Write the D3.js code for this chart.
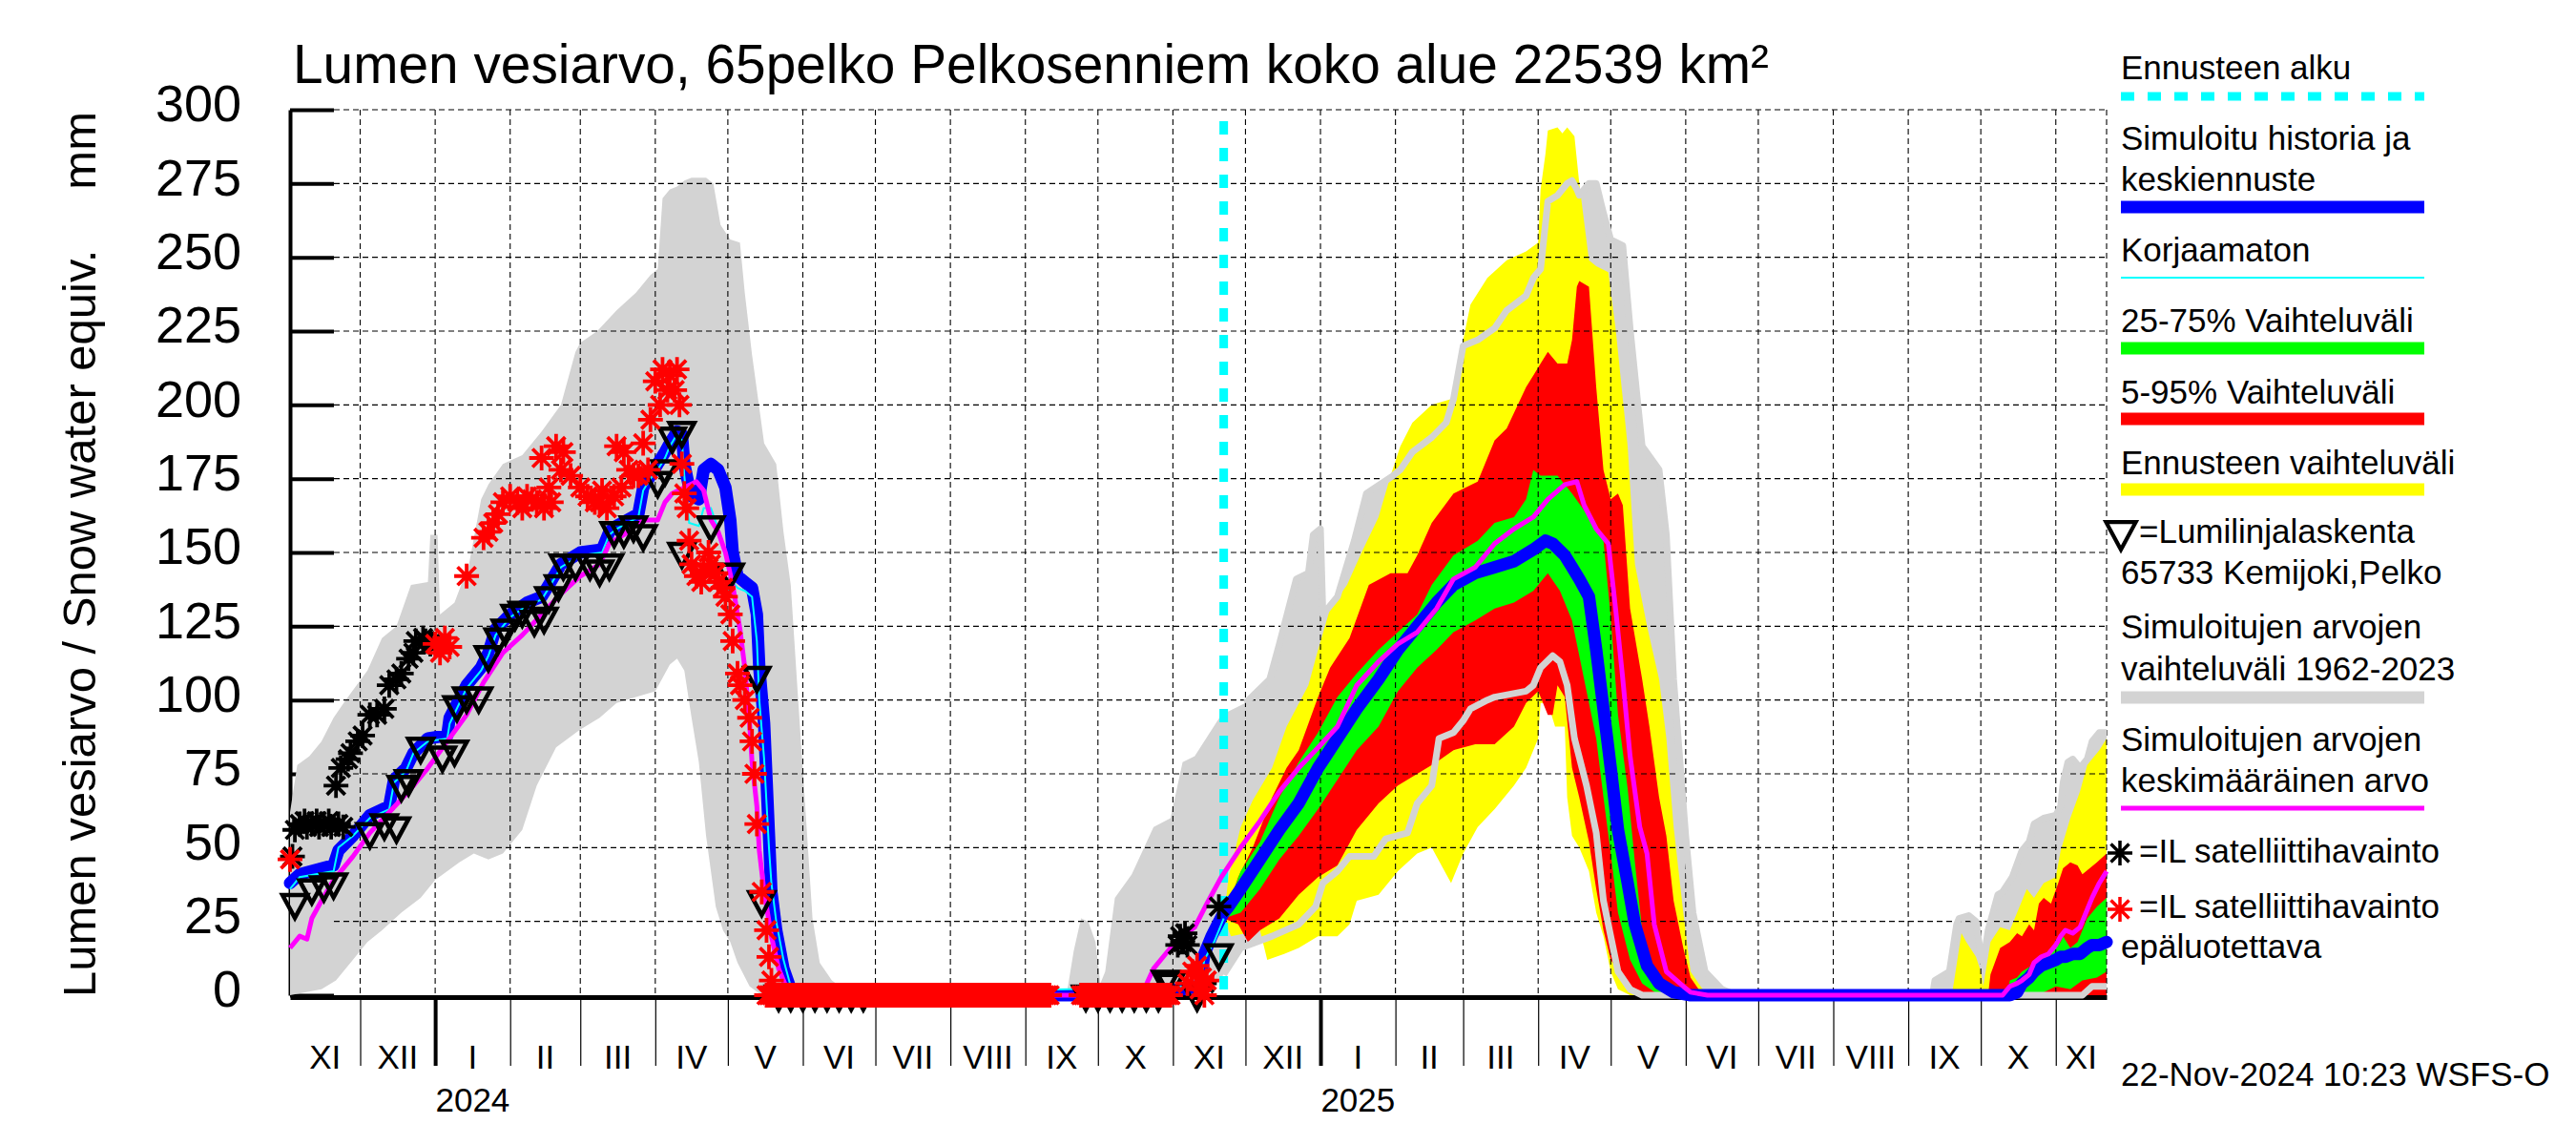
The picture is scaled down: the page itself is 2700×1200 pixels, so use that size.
<!DOCTYPE html>
<html>
<head>
<meta charset="utf-8">
<script src="https://cdn.jsdelivr.net/npm/d3@7"></script>
<style>
  body { margin: 0; background: #fff; }
  svg { display: block; font-family: "Liberation Sans", Arial, sans-serif; }
</style>
</head>
<body>
<svg id="chart"></svg>
<script>
const width = 2700;
const height = 1200;
const parse = d3.utcParse("%Y-%m-%d");

// simulated range 1962-2023 (upper / lower edge)
const grayHi = [
  ["2023-11-02",62],["2023-11-05",78],["2023-11-10",81],["2023-11-15",86],["2023-11-20",94],["2023-11-25",100],
  ["2023-12-04",110],["2023-12-10",121],["2023-12-16",125],["2023-12-22",139],["2023-12-29",140],["2023-12-30",156],
  ["2024-01-02",156],["2024-01-03",129],["2024-01-09",133],["2024-01-15",146],["2024-01-20",168],["2024-01-23",173],
  ["2024-01-29",180],["2024-02-06",183],["2024-02-14",191],["2024-02-22",200],["2024-02-28",218],["2024-03-01",221],
  ["2024-03-08",225],["2024-03-16",232],["2024-03-24",238],["2024-03-30",244],["2024-04-02",246],["2024-04-04",270],
  ["2024-04-07",273],["2024-04-10",274],["2024-04-13",276],["2024-04-16",277],["2024-04-22",277],["2024-04-25",275],
  ["2024-04-28",261],["2024-05-02",256],["2024-05-06",255],["2024-05-08",238],["2024-05-11",217],["2024-05-16",187],
  ["2024-05-21",180],["2024-05-24",157],["2024-05-27",139],["2024-05-30",101],["2024-06-02",64],["2024-06-05",26],
  ["2024-06-08",11],["2024-06-13",5],["2024-06-18",2],["2024-06-22",0],
  ["2024-09-18",0],["2024-09-21",15],["2024-09-24",26],["2024-09-27",25],["2024-09-30",18],["2024-10-02",4],
  ["2024-10-04",8],["2024-10-08",33],["2024-10-15",41],["2024-10-24",57],["2024-10-31",60],["2024-11-05",79],
  ["2024-11-10",81],["2024-11-21",95],["2024-12-01",99],["2024-12-11",107],["2024-12-15",119],["2024-12-22",141],
  ["2024-12-27",143],["2024-12-29",156],["2025-01-01",158],["2025-01-02",129],["2025-01-08",135],["2025-01-15",154],
  ["2025-01-20",170],["2025-01-31",176],["2025-02-03",178],["2025-02-08",184],["2025-02-16",189],["2025-02-22",194],
  ["2025-02-25",202],["2025-03-01",220],["2025-03-07",222],["2025-03-14",226],["2025-03-19",232],["2025-03-27",237],
  ["2025-03-30",243],["2025-04-02",246],["2025-04-05",269],["2025-04-09",271],["2025-04-13",275],["2025-04-15",276],
  ["2025-04-17",273],["2025-04-18",271],["2025-04-22",275],["2025-04-25",275],["2025-04-28",265],["2025-05-01",256],
  ["2025-05-06",254],["2025-05-09",226],["2025-05-14",186],["2025-05-21",178],["2025-05-24",156],["2025-05-27",107],
  ["2025-06-01",54],["2025-06-04",28],["2025-06-09",8],["2025-06-16",2],["2025-06-22",0],
  ["2025-09-11",0],["2025-09-12",5],["2025-09-18",8],["2025-09-21",24],["2025-09-22",26],["2025-09-26",27],
  ["2025-09-29",25],["2025-10-01",14],["2025-10-02",11],["2025-10-04",22],["2025-10-08",34],["2025-10-10",35],
  ["2025-10-14",40],["2025-10-18",49],["2025-10-21",52],["2025-10-23",58],["2025-10-27",60],["2025-11-01",61],
  ["2025-11-03",64],["2025-11-04",72],["2025-11-06",79],["2025-11-08",80],["2025-11-11",77],["2025-11-14",80],
  ["2025-11-16",86],["2025-11-19",89],["2025-11-22",89]
];
const grayLo = [
  ["2023-11-02",0],["2023-11-15",2],["2023-11-21",5],["2023-11-27",11],["2023-12-04",18],["2023-12-10",22],
  ["2023-12-18",28],["2023-12-26",33],["2024-01-01",39],["2024-01-11",45],["2024-01-17",48],["2024-01-23",46],
  ["2024-01-29",48],["2024-02-06",56],["2024-02-12",71],["2024-02-20",84],["2024-03-01",90],["2024-03-09",94],
  ["2024-03-16",99],["2024-03-24",101],["2024-04-01",103],["2024-04-07",112],["2024-04-10",114],["2024-04-13",110],
  ["2024-04-16",94],["2024-04-19",79],["2024-04-22",54],["2024-04-26",30],["2024-04-29",22],["2024-05-02",18],
  ["2024-05-05",11],["2024-05-10",3],["2024-05-15",0],["2024-11-15",0],["2024-11-22",7],["2024-11-29",16],
  ["2024-12-12",20],["2024-12-23",24],["2024-12-30",30],["2025-01-02",38],["2025-01-08",42],["2025-01-13",47],
  ["2025-01-23",47],["2025-01-28",53],["2025-02-06",55],["2025-02-10",65],["2025-02-16",71],["2025-02-19",87],
  ["2025-02-25",89],["2025-03-01",93],["2025-03-04",97],["2025-03-11",100],["2025-03-14",101],["2025-03-27",103],
  ["2025-03-30",105],["2025-04-02",111],["2025-04-07",115],["2025-04-10",113],["2025-04-13",105],["2025-04-16",87],
  ["2025-04-21",71],["2025-04-25",55],["2025-04-28",32],["2025-05-01",20],["2025-05-04",8],["2025-05-09",2],
  ["2025-05-14",0],["2025-11-12",0],["2025-11-16",3],["2025-11-22",3]
];

// forecast range
const yellowHi = [
  ["2024-11-22",26],["2024-11-24",40],["2024-11-29",57],["2024-12-04",66],["2024-12-12",77],["2024-12-18",91],
  ["2024-12-27",105],["2024-12-31",117],["2025-01-05",131],["2025-01-12",139],["2025-01-18",150],["2025-01-25",162],
  ["2025-01-30",176],["2025-02-03",186],["2025-02-08",194],["2025-02-16",200],["2025-02-24",202],["2025-03-01",222],
  ["2025-03-04",234],["2025-03-11",243],["2025-03-19",249],["2025-03-27",252],["2025-04-01",255],["2025-04-02",273],
  ["2025-04-04",285],["2025-04-05",293],["2025-04-09",294],["2025-04-11",292],["2025-04-13",294],["2025-04-16",291],
  ["2025-04-18",275],["2025-04-22",249],["2025-04-25",247],["2025-04-30",245],["2025-05-03",226],["2025-05-08",186],
  ["2025-05-11",146],["2025-05-16",125],["2025-05-21",107],["2025-05-24",87],["2025-05-27",57],["2025-05-31",28],
  ["2025-06-03",8],["2025-06-08",2],["2025-06-13",0],["2025-09-19",0],["2025-09-20",5],["2025-09-23",21],
  ["2025-09-25",18],["2025-09-29",13],["2025-10-01",8],["2025-10-02",3],["2025-10-05",18],["2025-10-09",23],
  ["2025-10-13",22],["2025-10-16",28],["2025-10-20",36],["2025-10-23",33],["2025-10-27",38],["2025-11-01",40],
  ["2025-11-03",49],["2025-11-07",60],["2025-11-11",69],["2025-11-14",78],["2025-11-16",80],["2025-11-19",83],
  ["2025-11-22",87]
];
const yellowLo = [
  ["2024-11-22",26],["2024-11-25",20],["2024-12-07",22],["2024-12-10",12],["2024-12-17",14],["2024-12-23",16],
  ["2024-12-31",20],["2025-01-08",20],["2025-01-13",24],["2025-01-16",32],["2025-01-25",34],["2025-02-02",42],
  ["2025-02-10",48],["2025-02-16",50],["2025-02-24",38],["2025-03-01",48],["2025-03-07",57],["2025-03-14",63],
  ["2025-03-22",71],["2025-03-27",77],["2025-04-01",87],["2025-04-02",99],["2025-04-05",99],["2025-04-08",91],
  ["2025-04-12",91],["2025-04-13",67],["2025-04-15",54],["2025-04-18",50],["2025-04-22",42],["2025-04-25",28],
  ["2025-04-28",20],["2025-05-01",8],["2025-05-04",2],["2025-05-09",0],["2025-11-22",0]
];

// 5-95 %
const redHi = [
  ["2024-11-22",26],["2024-11-28",40],["2024-12-04",50],["2024-12-12",67],["2024-12-18",77],["2024-12-23",83],
  ["2024-12-31",101],["2025-01-05",111],["2025-01-13",121],["2025-01-21",139],["2025-01-30",143],["2025-02-06",143],
  ["2025-02-10",149],["2025-02-16",160],["2025-02-25",170],["2025-03-07",174],["2025-03-14",188],["2025-03-19",192],
  ["2025-03-27",206],["2025-03-30",210],["2025-04-02",214],["2025-04-05",218],["2025-04-09",214],["2025-04-13",214],
  ["2025-04-15",222],["2025-04-17",240],["2025-04-18",242],["2025-04-22",240],["2025-04-25",206],["2025-04-28",178],
  ["2025-05-01",168],["2025-05-04",170],["2025-05-06",166],["2025-05-09",131],["2025-05-14",107],["2025-05-17",91],
  ["2025-05-21",67],["2025-05-24",54],["2025-05-27",32],["2025-05-31",16],["2025-06-03",6],["2025-06-08",0],
  ["2025-10-04",0],["2025-10-05",7],["2025-10-09",16],["2025-10-13",18],["2025-10-16",21],["2025-10-18",20],
  ["2025-10-21",24],["2025-10-23",22],["2025-10-25",31],["2025-10-27",33],["2025-10-30",31],["2025-11-02",38],
  ["2025-11-04",43],["2025-11-07",45],["2025-11-10",44],["2025-11-12",41],["2025-11-15",43],["2025-11-18",45],
  ["2025-11-22",48]
];
const redLo = [
  ["2024-11-22",26],["2024-11-28",24],["2024-12-02",18],["2024-12-07",22],["2024-12-15",26],["2024-12-23",34],
  ["2024-12-31",40],["2025-01-08",44],["2025-01-16",56],["2025-01-25",65],["2025-02-02",71],["2025-02-10",75],
  ["2025-02-18",79],["2025-02-25",83],["2025-03-06",85],["2025-03-14",85],["2025-03-22",91],["2025-03-27",99],
  ["2025-04-01",103],["2025-04-02",101],["2025-04-05",95],["2025-04-07",95],["2025-04-09",105],["2025-04-12",101],
  ["2025-04-15",77],["2025-04-18",67],["2025-04-22",52],["2025-04-25",36],["2025-04-28",22],["2025-05-01",12],
  ["2025-05-08",4],["2025-05-14",0],["2025-11-22",0]
];

// 25-75 %
const greenHi = [
  ["2024-11-22",26],["2024-11-29",42],["2024-12-07",52],["2024-12-15",67],["2024-12-23",79],["2024-12-31",89],
  ["2025-01-08",101],["2025-01-16",109],["2025-01-25",117],["2025-02-02",123],["2025-02-10",129],["2025-02-16",139],
  ["2025-02-25",149],["2025-03-07",154],["2025-03-14",160],["2025-03-22",162],["2025-03-27",168],["2025-03-30",178],
  ["2025-04-02",176],["2025-04-09",176],["2025-04-15",170],["2025-04-22",162],["2025-04-28",154],["2025-05-01",128],
  ["2025-05-04",95],["2025-05-08",70],["2025-05-11",45],["2025-05-14",22],["2025-05-17",8],["2025-05-22",2],
  ["2025-05-27",0],["2025-10-12",0],["2025-10-13",5],["2025-10-16",6],["2025-10-18",8],["2025-10-22",10],
  ["2025-10-27",13],["2025-11-01",16],["2025-11-03",18],["2025-11-04",20],["2025-11-07",16],["2025-11-10",18],
  ["2025-11-14",26],["2025-11-18",30],["2025-11-22",33]
];
const greenLo = [
  ["2024-11-22",26],["2024-11-29",28],["2024-12-07",36],["2024-12-15",46],["2024-12-23",54],["2024-12-31",63],
  ["2025-01-08",73],["2025-01-16",83],["2025-01-25",91],["2025-02-02",103],["2025-02-10",111],["2025-02-18",117],
  ["2025-02-25",123],["2025-03-06",127],["2025-03-14",131],["2025-03-22",133],["2025-03-30",137],["2025-04-05",143],
  ["2025-04-10",137],["2025-04-15",127],["2025-04-20",107],["2025-04-25",87],["2025-04-28",67],["2025-05-01",48],
  ["2025-05-04",28],["2025-05-09",12],["2025-05-14",4],["2025-05-21",0],["2025-10-20",0],["2025-10-27",1],
  ["2025-11-01",3],["2025-11-07",2],["2025-11-12",5],["2025-11-18",6],["2025-11-22",8]
];

// simulated history + median forecast
const blueLine = [
  ["2023-11-02",38],["2023-11-06",41],["2023-11-20",44],["2023-11-22",49],["2023-11-28",54],["2023-12-05",61],
  ["2023-12-13",64],["2023-12-15",73],["2023-12-20",77],["2023-12-23",82],["2023-12-29",87],["2024-01-06",88],
  ["2024-01-07",94],["2024-01-14",105],["2024-01-20",111],["2024-01-23",116],["2024-01-26",124],["2024-02-01",129],
  ["2024-02-08",133],["2024-02-14",135],["2024-02-17",139],["2024-02-22",146],["2024-03-01",150],["2024-03-10",151],
  ["2024-03-13",157],["2024-03-16",159],["2024-03-25",163],["2024-03-27",172],["2024-03-30",176],["2024-04-02",180],
  ["2024-04-05",184],["2024-04-07",187],["2024-04-10",191],["2024-04-12",190],["2024-04-13",180],["2024-04-15",172],
  ["2024-04-16",169],["2024-04-19",168],["2024-04-21",178],["2024-04-24",180],["2024-04-27",178],["2024-04-30",172],
  ["2024-05-02",161],["2024-05-03",150],["2024-05-05",142],["2024-05-08",140],["2024-05-11",138],["2024-05-13",129],
  ["2024-05-14",111],["2024-05-16",92],["2024-05-17",73],["2024-05-18",54],["2024-05-19",35],["2024-05-21",22],
  ["2024-05-24",9],["2024-05-27",2],["2024-05-30",0],["2024-10-10",0],["2024-10-20",1],["2024-11-05",2],
  ["2024-11-12",3],["2024-11-14",14],["2024-11-17",20],["2024-11-22",28],
  ["2024-11-24",30],["2024-11-29",36],["2024-12-07",46],["2024-12-15",56],["2024-12-23",65],["2024-12-31",77],
  ["2025-01-08",87],["2025-01-16",97],["2025-01-25",107],["2025-02-02",117],["2025-02-10",125],["2025-02-18",133],
  ["2025-02-25",139],["2025-03-06",143],["2025-03-14",145],["2025-03-22",147],["2025-03-30",151],["2025-04-04",154],
  ["2025-04-07",153],["2025-04-12",149],["2025-04-15",145],["2025-04-18",141],["2025-04-22",135],["2025-04-25",117],
  ["2025-04-28",97],["2025-05-01",77],["2025-05-04",56],["2025-05-08",38],["2025-05-11",24],["2025-05-16",10],
  ["2025-05-21",4],["2025-05-27",1],["2025-06-03",0],["2025-10-13",0],["2025-10-16",1],["2025-10-18",4],
  ["2025-10-21",6],["2025-10-23",8],["2025-10-26",10],["2025-10-29",11],["2025-11-01",12],["2025-11-03",13],
  ["2025-11-05",13],["2025-11-08",14],["2025-11-11",14],["2025-11-14",16],["2025-11-16",17],["2025-11-19",17],
  ["2025-11-22",18]
];

// uncorrected (korjaamaton)
const cyanLine = [
  ["2023-11-02",36],["2023-11-06",40],["2023-11-20",42],["2023-11-22",50],["2023-11-28",54],["2023-12-05",60],
  ["2023-12-13",63],["2023-12-15",72],["2023-12-20",76],["2023-12-23",82],["2023-12-29",86],["2024-01-06",87],
  ["2024-01-07",92],["2024-01-14",104],["2024-01-20",110],["2024-01-23",115],["2024-01-26",122],["2024-02-01",128],
  ["2024-02-08",132],["2024-02-14",134],["2024-02-17",138],["2024-02-22",145],["2024-03-01",149],["2024-03-10",150],
  ["2024-03-13",156],["2024-03-16",158],["2024-03-25",162],["2024-03-27",171],["2024-03-30",175],["2024-04-02",178],
  ["2024-04-05",182],["2024-04-07",186],["2024-04-10",190],["2024-04-12",188],["2024-04-13",176],["2024-04-15",160],
  ["2024-04-19",159],["2024-04-21",165],["2024-04-24",165],["2024-04-27",158],["2024-04-30",150],["2024-05-03",140],
  ["2024-05-05",138],["2024-05-08",137],["2024-05-11",135],["2024-05-13",120],["2024-05-14",100],["2024-05-16",80],
  ["2024-05-17",65],["2024-05-18",50],["2024-05-19",38],["2024-05-21",25],["2024-05-24",12],["2024-05-27",3],
  ["2024-05-30",0],["2024-11-12",3],["2024-11-14",12],["2024-11-18",18],["2024-11-22",26]
];

// mean of simulated values
const magentaLine = [
  ["2023-11-02",16],["2023-11-06",20],["2023-11-09",19],["2023-11-11",26],["2023-11-15",32],["2023-11-20",39],
  ["2023-11-28",47],["2023-12-05",55],["2023-12-13",62],["2023-12-21",69],["2023-12-29",77],["2024-01-06",86],
  ["2024-01-14",95],["2024-01-21",106],["2024-01-29",116],["2024-02-06",122],["2024-02-14",129],["2024-02-22",136],
  ["2024-03-01",142],["2024-03-09",146],["2024-03-13",153],["2024-03-19",156],["2024-03-27",161],["2024-04-02",161],
  ["2024-04-05",167],["2024-04-08",170],["2024-04-13",172],["2024-04-18",174],["2024-04-21",171],["2024-04-24",161],
  ["2024-04-27",157],["2024-04-30",150],["2024-05-03",139],["2024-05-06",124],["2024-05-08",111],["2024-05-10",92],
  ["2024-05-11",79],["2024-05-13",64],["2024-05-14",49],["2024-05-16",35],["2024-05-19",20],["2024-05-22",9],
  ["2024-05-25",3],["2024-05-30",0],["2024-10-19",0],["2024-10-24",9],["2024-10-31",16],["2024-11-05",20],
  ["2024-11-10",23],["2024-11-15",31],["2024-11-21",40],["2024-11-29",50],["2024-12-07",59],["2024-12-15",69],
  ["2024-12-23",77],["2024-12-30",83],["2025-01-08",91],["2025-01-16",105],["2025-01-25",113],["2025-02-02",119],
  ["2025-02-10",123],["2025-02-18",131],["2025-02-25",141],["2025-03-06",145],["2025-03-14",153],["2025-03-22",158],
  ["2025-03-30",162],["2025-04-05",168],["2025-04-12",173],["2025-04-17",174],["2025-04-20",166],["2025-04-25",158],
  ["2025-04-30",153],["2025-05-03",131],["2025-05-06",107],["2025-05-09",81],["2025-05-13",57],["2025-05-16",48],
  ["2025-05-19",24],["2025-05-24",8],["2025-05-31",3],["2025-06-03",1],["2025-06-10",0],["2025-10-10",0],
  ["2025-10-13",3],["2025-10-16",4],["2025-10-18",5],["2025-10-21",7],["2025-10-23",11],["2025-10-26",13],
  ["2025-10-29",14],["2025-11-01",17],["2025-11-03",20],["2025-11-05",22],["2025-11-08",21],["2025-11-11",23],
  ["2025-11-14",29],["2025-11-16",33],["2025-11-19",38],["2025-11-22",42]
];

// snow course measurements 65733 Kemijoki,Pelko
const snowCourse = [
  ["2023-11-04",31],["2023-11-11",36],["2023-11-16",37],["2023-11-20",38],["2023-12-05",55],["2023-12-11",58],
  ["2023-12-16",57],["2023-12-18",71],["2023-12-21",73],["2023-12-26",84],["2024-01-04",81],["2024-01-09",83],
  ["2024-01-10",98],["2024-01-14",101],["2024-01-19",101],["2024-01-23",115],["2024-01-27",121],["2024-01-30",124],
  ["2024-02-03",129],["2024-02-06",130],["2024-02-11",127],["2024-02-15",128],["2024-02-17",135],["2024-02-21",139],
  ["2024-02-23",146],["2024-02-28",146],["2024-03-05",146],["2024-03-09",144],["2024-03-13",146],["2024-03-15",157],
  ["2024-03-19",157],["2024-03-23",159],["2024-03-27",156],["2024-04-02",174],["2024-04-05",178],["2024-04-08",189],
  ["2024-04-12",191],["2024-04-12",150],["2024-04-24",159],["2024-05-02",143],["2024-05-13",108],["2024-05-15",32],
  ["2024-05-22",0],["2024-05-27",0],["2024-06-01",0],["2024-06-06",0],["2024-06-11",0],["2024-06-16",0],
  ["2024-06-21",0],["2024-06-26",0],["2024-09-26",0],["2024-10-01",0],["2024-10-06",0],["2024-10-11",0],
  ["2024-10-16",0],["2024-10-21",0],["2024-10-26",0],["2024-10-29",5],["2024-10-31",4],["2024-11-11",0],
  ["2024-11-20",14]
];

// IL satellite observations
const satObs = [
  ["2023-11-03",47],["2023-11-04",56],["2023-11-06",58],["2023-11-08",59],["2023-11-09",57],["2023-11-11",58],
  ["2023-11-13",59],["2023-11-14",57],["2023-11-16",58],["2023-11-18",59],["2023-11-19",57],["2023-11-21",71],
  ["2023-11-22",58],["2023-11-23",77],["2023-11-24",57],["2023-11-26",80],["2023-11-27",82],["2023-11-30",86],
  ["2023-12-02",88],["2023-12-05",95],["2023-12-08",95],["2023-12-11",97],["2023-12-13",105],["2023-12-16",107],
  ["2023-12-18",109],["2023-12-21",114],["2023-12-23",116],["2023-12-24",120],["2023-12-27",121],["2023-12-28",120],
  ["2023-12-30",119],["2024-11-03",17],["2024-11-04",20],["2024-11-05",18],["2024-11-06",21],["2024-11-07",17],
  ["2024-11-14",4],["2024-11-20",30]
];

// IL satellite observations, unreliable
const satUnreliable = [
  ["2023-11-02",46],["2024-01-01",119],["2024-01-03",116],["2024-01-05",121],["2024-01-07",118],["2024-01-14",142],
  ["2024-01-21",155],["2024-01-23",157],["2024-01-25",160],["2024-01-27",163],["2024-01-29",167],["2024-02-01",169],
  ["2024-02-04",167],["2024-02-06",165],["2024-02-08",169],["2024-02-10",168],["2024-02-12",167],["2024-02-14",182],
  ["2024-02-15",165],["2024-02-17",172],["2024-02-18",167],["2024-02-20",186],["2024-02-22",178],["2024-02-23",184],
  ["2024-02-26",176],["2024-03-01",172],["2024-03-04",169],["2024-03-07",167],["2024-03-09",167],["2024-03-10",171],
  ["2024-03-12",165],["2024-03-15",169],["2024-03-16",186],["2024-03-18",172],["2024-03-19",184],["2024-03-21",178],
  ["2024-03-23",176],["2024-03-25",176],["2024-03-27",187],["2024-03-29",178],["2024-03-30",195],["2024-04-01",208],
  ["2024-04-03",200],["2024-04-04",212],["2024-04-06",205],["2024-04-07",210],["2024-04-09",205],["2024-04-10",212],
  ["2024-04-11",200],["2024-04-12",180],["2024-04-13",170],["2024-04-14",165],["2024-04-15",154],["2024-04-16",146],
  ["2024-04-18",142],["2024-04-20",140],["2024-04-21",144],["2024-04-23",150],["2024-04-24",146],["2024-04-26",143],
  ["2024-04-27",140],["2024-04-29",138],["2024-04-30",135],["2024-05-02",129],["2024-05-03",120],["2024-05-05",109],
  ["2024-05-06",105],["2024-05-08",100],["2024-05-10",94],["2024-05-11",86],["2024-05-12",75],["2024-05-13",58],
  ["2024-05-15",35],["2024-05-17",22],["2024-05-18",13],["2024-05-19",5],["2024-11-07",4],["2024-11-09",8],
  ["2024-11-11",10],["2024-11-12",2],["2024-11-13",6],["2024-11-14",0],["2024-11-15",5]
];
// daily unreliable observations of 0 mm
const satUnreliableZeroRuns = [["2024-05-17", "2024-09-11"], ["2024-09-24", "2024-10-31"]];

const forecastStart = "2024-11-22";
const monthNames = ["I", "II", "III", "IV", "V", "VI", "VII", "VIII", "IX", "X", "XI", "XII"];
const yTicks = d3.range(0, 301, 25);

const toPts = a => a.map(([d, v]) => [parse(d), v]);
const zeroObs = satUnreliableZeroRuns.flatMap(([a, b]) =>
  d3.utcDay.range(parse(a), d3.utcDay.offset(parse(b), 1)).map(d => [d, 0]));

const x = d3.scaleUtc()
  .domain([parse("2023-11-02"), parse("2025-11-22")])
  .range([304, 2208]);
const y = d3.scaleLinear().domain([0, 300]).range([1043, 115]);

const svg = d3.select("#chart")
  .attr("width", width)
  .attr("height", height)
  .attr("viewBox", [0, 0, width, height]);

svg.append("rect").attr("width", width).attr("height", height).attr("fill", "#fff");

const line = d3.line().x(d => x(d[0])).y(d => y(d[1]));
const band = (hi, lo) => {
  const top = toPts(hi).map(d => [x(d[0]), y(d[1])]);
  const bottom = toPts(lo).map(d => [x(d[0]), y(d[1])]).reverse();
  return d3.line()(top.concat(bottom)) + "Z";
};

// axes first, the gray range is painted over them
const yAxis = svg.append("g")
  .attr("transform", "translate(304,0)")
  .call(d3.axisLeft(y).tickValues(yTicks).tickSize(-46).tickSizeOuter(0).tickPadding(51));
yAxis.select(".domain").attr("stroke-width", 4);
yAxis.selectAll(".tick line").attr("stroke-width", 4);
yAxis.selectAll(".tick text")
  .attr("font-size", 54)
  .attr("font-family", "Liberation Sans, Arial, sans-serif")
  .attr("dy", "0.22em");

const monthStarts = d3.utcMonth.range(parse("2023-12-01"), parse("2025-11-22"));
const xAxis = svg.append("g")
  .attr("transform", "translate(0,1045)")
  .call(d3.axisBottom(x).tickValues(monthStarts).tickSize(72).tickSizeOuter(0).tickFormat(""));
xAxis.select(".domain").attr("stroke-width", 5);
xAxis.selectAll(".tick line")
  .attr("stroke-width", d => d.getUTCMonth() === 0 ? 4 : 1.2);

const labelMonths = d3.utcMonth.range(parse("2023-11-01"), parse("2025-11-22"));
const [d0, d1] = x.domain();
svg.append("g")
  .attr("font-size", 35)
  .attr("text-anchor", "middle")
  .selectAll("text")
  .data(labelMonths)
  .join("text")
  .attr("x", d => {
    const a = d < d0 ? d0 : d;
    const b = d3.utcMonth.offset(d, 1) > d1 ? d1 : d3.utcMonth.offset(d, 1);
    return (x(a) + x(b)) / 2;
  })
  .attr("y", 1120)
  .text(d => monthNames[d.getUTCMonth()]);

svg.append("g")
  .attr("font-size", 35)
  .attr("text-anchor", "middle")
  .selectAll("text")
  .data(labelMonths.filter(d => d.getUTCMonth() === 0))
  .join("text")
  .attr("x", d => (x(d) + x(d3.utcMonth.offset(d, 1))) / 2)
  .attr("y", 1165)
  .text(d => d.getUTCFullYear());

// bands
svg.append("path").attr("d", band(grayHi, grayLo)).attr("fill", "#d3d3d3");
svg.append("path").attr("d", band(yellowHi, yellowLo)).attr("fill", "#ffff00");
svg.append("path").attr("d", band(redHi, redLo)).attr("fill", "#ff0000");
svg.append("path").attr("d", band(greenHi, greenLo)).attr("fill", "#00ff00");

// grid
const grid = svg.append("g")
  .attr("stroke", "#000")
  .attr("stroke-width", 1.1)
  .attr("stroke-dasharray", "6,4");
grid.selectAll(".hy")
  .data(yTicks.filter(v => v > 0))
  .join("line")
  .attr("x1", 350).attr("x2", x.range()[1])
  .attr("y1", d => y(d)).attr("y2", d => y(d));
grid.selectAll(".vx")
  .data(monthStarts.concat([d1]))
  .join("line")
  .attr("x1", d => x(d)).attr("x2", d => x(d))
  .attr("y1", y(300)).attr("y2", y(0));

// climatology edges drawn over the forecast
const fStart = parse(forecastStart);
[grayHi, grayLo].forEach(a => {
  svg.append("path")
    .attr("d", line(toPts(a).filter(d => d[0] >= fStart)))
    .attr("fill", "none")
    .attr("stroke", "#d3d3d3")
    .attr("stroke-width", 7)
    .attr("stroke-linejoin", "round");
});

// forecast start
svg.append("line")
  .attr("x1", x(fStart)).attr("x2", x(fStart))
  .attr("y1", 127).attr("y2", y(0))
  .attr("stroke", "#00ffff")
  .attr("stroke-width", 9)
  .attr("stroke-dasharray", "14,14");

svg.append("path")
  .attr("d", line(toPts(blueLine)))
  .attr("fill", "none").attr("stroke", "#0000ff")
  .attr("stroke-width", 13).attr("stroke-linejoin", "round").attr("stroke-linecap", "round");
svg.append("path")
  .attr("d", line(toPts(cyanLine)))
  .attr("fill", "none").attr("stroke", "#00ffff").attr("stroke-width", 2);
svg.append("path")
  .attr("d", line(toPts(magentaLine)))
  .attr("fill", "none").attr("stroke", "#ff00ff")
  .attr("stroke-width", 5).attr("stroke-linejoin", "round");

// markers
const triangle = "M-13,-9L13,-9L0,15Z";
const asterisk = "M-13,0H13M0,-13V13M-9.5,-9.5L9.5,9.5M-9.5,9.5L9.5,-9.5";

svg.append("g")
  .selectAll("path")
  .data(toPts(snowCourse))
  .join("path")
  .attr("transform", d => `translate(${x(d[0])},${y(d[1])})`)
  .attr("d", triangle)
  .attr("fill", "none").attr("stroke", "#000").attr("stroke-width", 4.5)
  .attr("stroke-linejoin", "miter");

svg.append("g")
  .selectAll("path")
  .data(toPts(satObs))
  .join("path")
  .attr("transform", d => `translate(${x(d[0])},${y(d[1])})`)
  .attr("d", asterisk)
  .attr("fill", "none").attr("stroke", "#000").attr("stroke-width", 3.8);

svg.append("g")
  .selectAll("path")
  .data(toPts(satUnreliable).concat(zeroObs))
  .join("path")
  .attr("transform", d => `translate(${x(d[0])},${y(d[1])})`)
  .attr("d", asterisk)
  .attr("fill", "none").attr("stroke", "#ff0000").attr("stroke-width", 3.8);

// title and axis title
svg.append("text")
  .attr("x", 307).attr("y", 87)
  .attr("font-size", 56.8)
  .text("Lumen vesiarvo, 65pelko Pelkosenniem koko alue 22539 km²");

svg.append("text")
  .attr("transform", "translate(100,1045) rotate(-90)")
  .attr("font-size", 49)
  .text("Lumen vesiarvo / Snow water equiv.");
svg.append("text")
  .attr("transform", "translate(100,117) rotate(-90)")
  .attr("font-size", 49)
  .attr("text-anchor", "end")
  .text("mm");

// legend
const lx0 = 2223, lx1 = 2541;
const legend = svg.append("g").attr("font-size", 35);
const legendText = [
  [lx0, 83, "Ennusteen alku"],
  [lx0, 157, "Simuloitu historia ja"],
  [lx0, 200, "keskiennuste"],
  [lx0, 274, "Korjaamaton"],
  [lx0, 348, "25-75% Vaihteluväli"],
  [lx0, 423, "5-95% Vaihteluväli"],
  [lx0, 497, "Ennusteen vaihteluväli"],
  [2242, 569, "=Lumilinjalaskenta"],
  [lx0, 612, "65733 Kemijoki,Pelko"],
  [lx0, 669, "Simuloitujen arvojen"],
  [lx0, 713, "vaihteluväli 1962-2023"],
  [lx0, 787, "Simuloitujen arvojen"],
  [lx0, 830, "keskimääräinen arvo"],
  [2242, 904, "=IL satelliittihavainto"],
  [2242, 962, "=IL satelliittihavainto"],
  [lx0, 1004, "epäluotettava"],
  [lx0, 1138, "22-Nov-2024 10:23 WSFS-O"]
];
legend.selectAll("text")
  .data(legendText)
  .join("text")
  .attr("x", d => d[0]).attr("y", d => d[1])
  .text(d => d[2]);

const legendLines = [
  [101, "#00ffff", 9, "14,14"],
  [217, "#0000ff", 13, null],
  [291, "#00ffff", 2, null],
  [365, "#00ff00", 13, null],
  [439, "#ff0000", 13, null],
  [513, "#ffff00", 13, null],
  [731, "#d3d3d3", 13, null],
  [847, "#ff00ff", 5, null]
];
legend.selectAll("line")
  .data(legendLines)
  .join("line")
  .attr("x1", lx0).attr("x2", lx1)
  .attr("y1", d => d[0]).attr("y2", d => d[0])
  .attr("stroke", d => d[1])
  .attr("stroke-width", d => d[2])
  .attr("stroke-dasharray", d => d[3]);

legend.append("path")
  .attr("transform", "translate(2223,558) scale(1.2)")
  .attr("d", triangle)
  .attr("fill", "none").attr("stroke", "#000").attr("stroke-width", 3.5);
legend.append("path")
  .attr("transform", "translate(2222,894)")
  .attr("d", asterisk)
  .attr("fill", "none").attr("stroke", "#000").attr("stroke-width", 3.5);
legend.append("path")
  .attr("transform", "translate(2222,953)")
  .attr("d", asterisk)
  .attr("fill", "none").attr("stroke", "#ff0000").attr("stroke-width", 3.5);
</script>
</body>
</html>
